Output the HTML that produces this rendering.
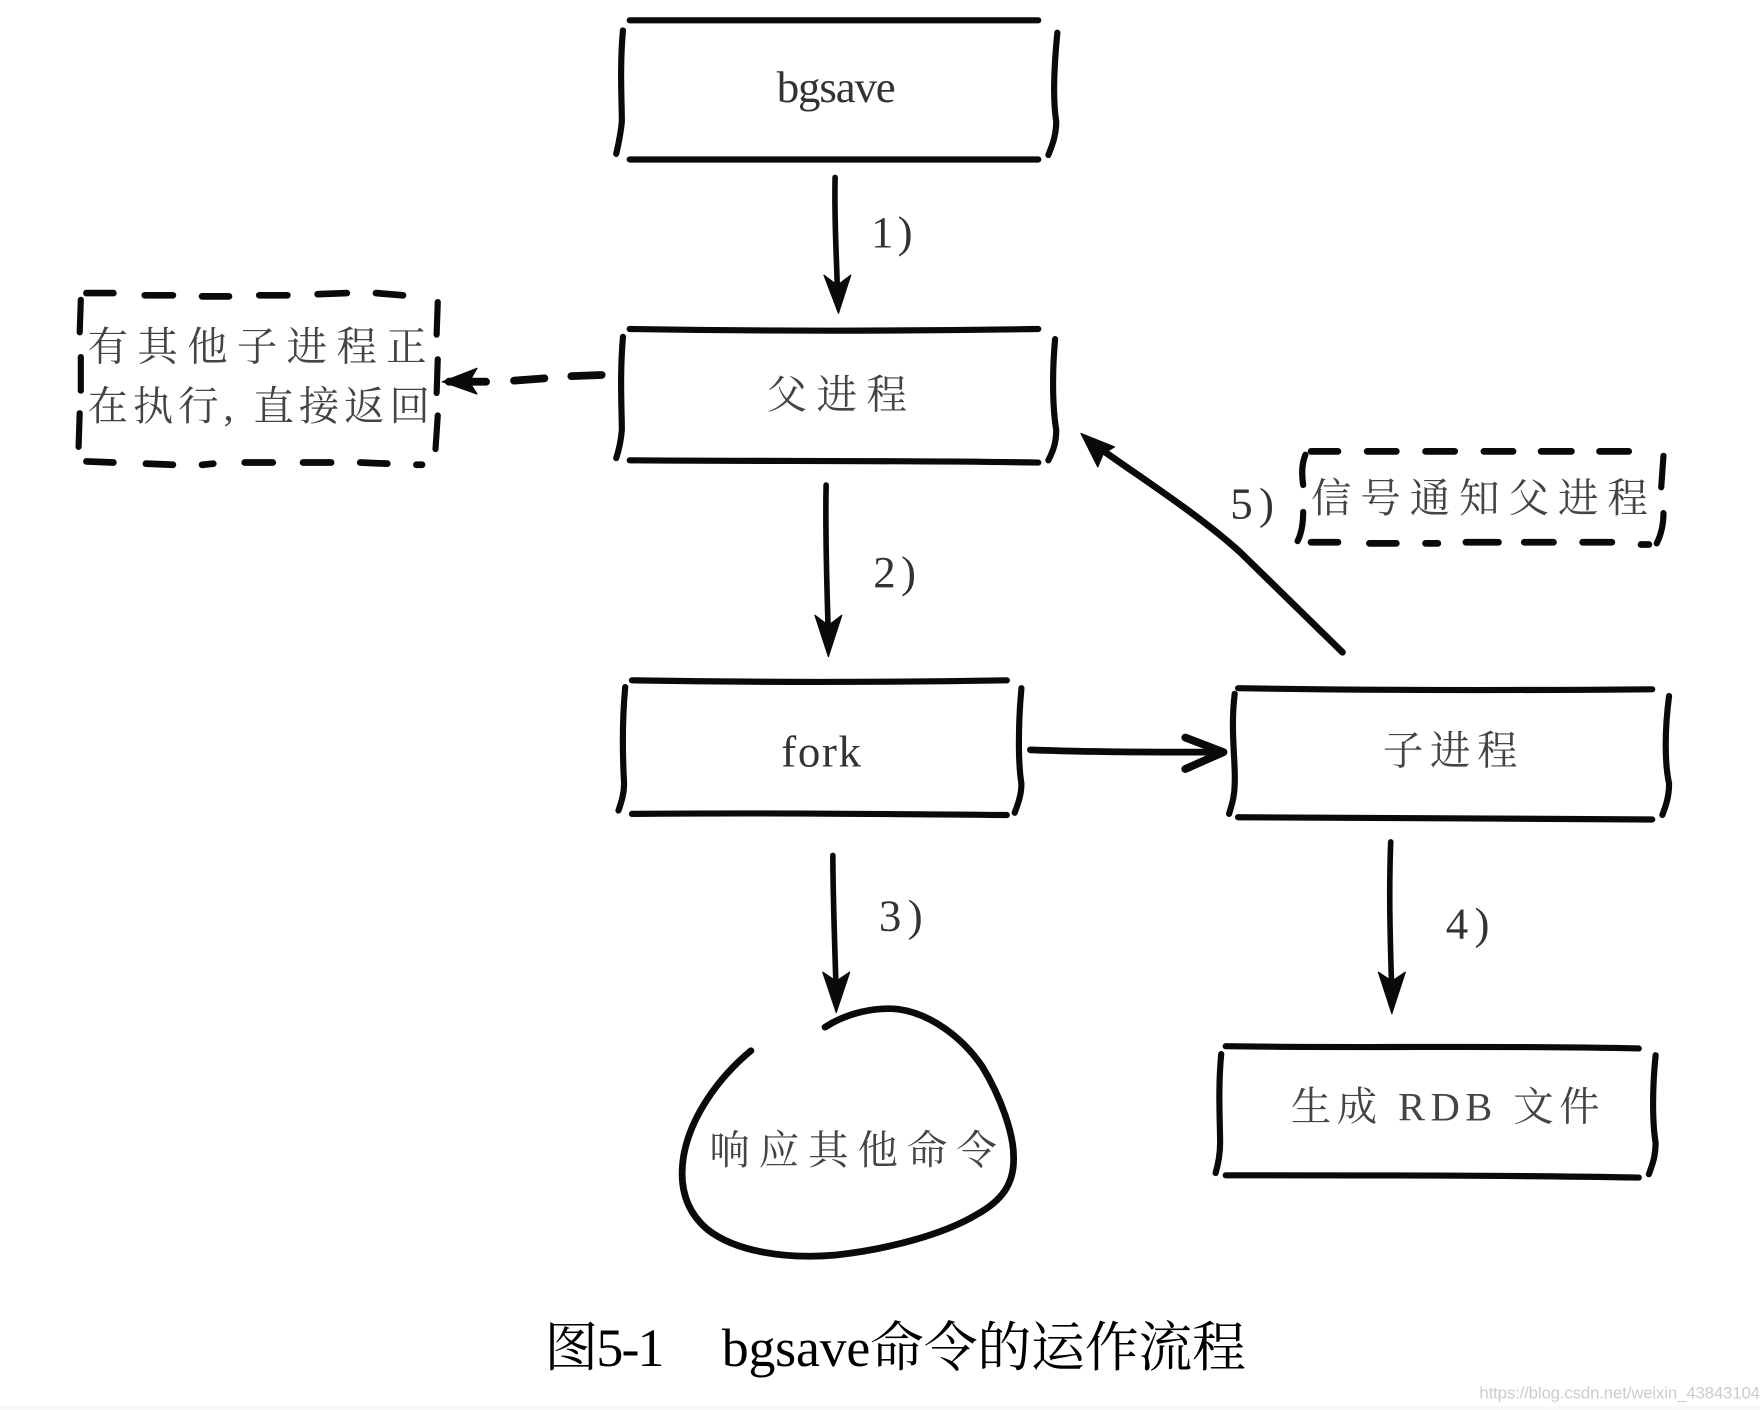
<!DOCTYPE html>
<html><head><meta charset="utf-8"><style>
html,body{margin:0;padding:0;background:#fff;width:1760px;height:1410px;overflow:hidden}
svg{display:block}
.b{fill:none;stroke:#0a0a0a;stroke-width:5.5;stroke-linecap:round;stroke-linejoin:round}
.a{fill:none;stroke:#0a0a0a;stroke-width:5;stroke-linecap:round;stroke-linejoin:round}
.h{fill:#0a0a0a;stroke:#0a0a0a;stroke-width:1;stroke-linejoin:round}
text{font-family:"Liberation Serif","Noto Serif CJK SC",serif}
.t{fill:#444;font-size:36px}
.n{fill:#333;font-size:40px}
</style></head><body>
<svg xmlns="http://www.w3.org/2000/svg" width="1760" height="1410" viewBox="0 0 1568 1256">
<rect width="1568" height="1256" fill="#fff"/>
<rect y="1252" width="1568" height="4" fill="#f8f8f8"/>

<!-- bgsave -->
<path class="b" d="M561 18C680 17 800 19 925 18M561 142C680 141 800 143 925 142M555 27C552 60 554 90 554 108C553 120 551 128 549 137M942 29C939 60 938 90 941 108C941 120 938 128 934 138"/>
<!-- parent -->
<path class="b" d="M561 293C680 295 800 295 925 293M561 410C680 411 800 410 925 412M555 300C552 335 554 365 554 383C553 395 551 402 549 408M940 302C937 335 938 365 941 383C941 395 938 402 934 410"/>
<!-- fork -->
<path class="b" d="M563 606C680 608 780 608 897 606M563 725C680 724 780 725 897 726M557 612C554 645 555 680 556 698C556 708 553 716 551 722M910 613C907 645 907 680 910 698C910 708 907 716 904 724"/>
<!-- child -->
<path class="b" d="M1103 613C1220 615 1350 615 1472 614M1103 728C1220 729 1350 729 1472 730M1100 618C1096 650 1101 680 1100 698C1100 710 1097 718 1095 725M1487 620C1483 650 1483 680 1487 698C1487 710 1484 718 1481 726"/>
<!-- RDB -->
<path class="b" d="M1092 932C1220 934 1340 931 1460 934M1092 1047C1220 1047 1340 1047 1460 1049M1088 939C1085 970 1087 1000 1087 1018C1087 1030 1085 1038 1083 1045M1475 940C1472 970 1472 1000 1475 1018C1475 1030 1472 1038 1469 1046"/>

<!-- dashed box 1 -->
<path class="b" style="stroke-width:6" d="M77 261L101 261M129 263L154 263M180 264L204 264M231 263L256 263M283 262L309 261M335 261L359 263M77 411L101 412M130 413L154 414M180 414L190 413M218 412L243 412M270 412L295 412M321 412L345 413M371 414L376 414"/>
<path class="b" d="M72 267L71 296M72 318L72 348M71 368L70 398M390 269L389 298M390 320L389 350M390 370L388 400"/>
<!-- dashed box 2 -->
<path class="b" style="stroke-width:6" d="M1168 402L1192 402M1218 402L1244 402M1270 402L1296 402M1322 402L1348 402M1373 402L1400 402M1425 402L1451 402M1168 483L1192 483M1220 484L1244 484M1270 484L1281 484M1306 483L1335 483M1358 483L1384 483M1410 483L1436 483M1462 485L1469 485"/>
<path class="b" d="M1163 405C1159 415 1160 425 1161 432M1161 456C1161 468 1159 476 1156 482M1482 406L1480 434M1482 457C1482 468 1480 476 1476 484"/>

<!-- arrow 1 -->
<path class="a" d="M744 158C743 200 746 240 746 262"/>
<path class="h" d="M747 279L734 245L746 254L758 245Z"/>
<!-- arrow 2 -->
<path class="a" d="M736 432C735 480 737 530 738 568"/>
<path class="h" d="M738 585L726 548L738 557L750 548Z"/>
<!-- arrow 3 -->
<path class="a" d="M742 762C742 800 744 850 745 886"/>
<path class="h" d="M745 902L733 866L745 874L757 866Z"/>
<!-- arrow 4 -->
<path class="a" d="M1239 750C1237 800 1239 850 1240 886"/>
<path class="h" d="M1240 903L1228 866L1240 874L1252 866Z"/>
<!-- arrow 5 -->
<path class="a" d="M1196 581L1105 492C1070 460 1020 428 978 398" style="stroke-width:6"/>
<path class="h" d="M963 386L993 398L983 404L978 416Z"/>
<!-- fork arrow -->
<path class="a" d="M918 668C970 670 1030 670 1084 670" style="stroke-width:6"/>
<path class="a" d="M1056 657L1090 670L1056 685" style="stroke-width:7"/>
<!-- dashed arrow -->
<path class="a" d="M509 335L536 334M458 339L485 337M400 340L433 340" style="stroke-width:7"/>
<path class="h" d="M394 340L425 328L418 340L425 351Z"/>

<!-- blob -->
<path class="b" style="stroke-width:6" d="M735 915C755 902 780 897 800 899C830 903 858 925 875 950C892 978 903 1010 903 1030C904 1055 892 1070 870 1082C840 1100 790 1113 745 1118C700 1122 655 1115 630 1095C610 1078 605 1055 609 1030C615 995 640 960 669 936"/>

<!-- labels -->
<text class="n" x="692" y="91" textLength="106">bgsave</text>
<text class="t" x="683" y="364" textLength="125">父进程</text>
<text class="t" x="78" y="321" textLength="302">有其他子进程正</text>
<text class="t" x="78" y="374" textLength="305">在执行, 直接返回</text>
<text class="t" x="1168" y="456" textLength="300">信号通知父进程</text>
<text class="n" x="696" y="683" textLength="71">fork</text>
<text class="t" x="1232" y="681" textLength="120">子进程</text>
<text class="t" x="1150" y="998" textLength="275">生成 RDB 文件</text>
<text class="t" x="632" y="1037" textLength="256">响应其他命令</text>
<text class="n" x="776" y="220" textLength="37">1)</text>
<text class="n" x="778" y="523" textLength="38">2)</text>
<text class="n" x="783" y="829" textLength="39">3)</text>
<text class="n" x="1288" y="836" textLength="39">4)</text>
<text class="n" x="1096" y="462" textLength="39">5)</text>

<text x="485" y="1217" font-size="48" fill="#000" textLength="107">图5-1</text>
<text x="643" y="1217" font-size="48" fill="#000" textLength="467">bgsave命令的运作流程</text>
<text x="1318" y="1246" style="font-family:'Liberation Sans',sans-serif" font-size="15" fill="#ccc" textLength="250">https://blog.csdn.net/weixin_43843104</text>
</svg>
</body></html>
